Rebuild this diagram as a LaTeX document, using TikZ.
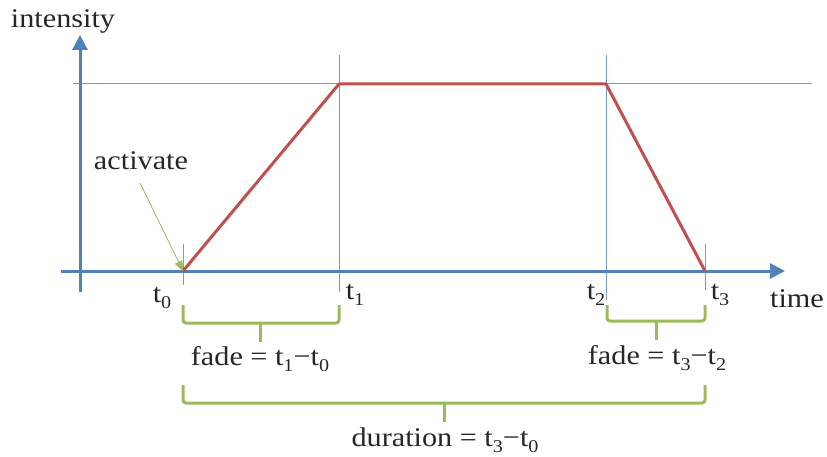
\documentclass[tikz,border=0pt]{standalone}
\usepackage{fontspec}
\setmainfont{Liberation Serif}[FakeStretch=1.12]
\usetikzlibrary{arrows.meta}
\definecolor{axisblue}{RGB}{79,129,189}
\definecolor{thinblue}{RGB}{120,155,200}
\definecolor{curvered}{RGB}{192,80,77}
\definecolor{bracegreen}{RGB}{155,187,89}
\newcommand\mysub[1]{\raisebox{-0.22em}{\fontsize{18}{18}\selectfont #1}}
\tikzset{
  lbl/.style={font=\fontsize{27}{30}\selectfont, inner sep=0pt, text=black!85},
  axisline/.style={draw=axisblue, line width=3pt},
  guide/.style={draw=thinblue, line width=1pt},
  curve/.style={draw=curvered, line width=3pt, line join=round},
  bracepath/.style={draw=bracegreen, line width=3pt, rounded corners=3pt},
}
\begin{document}
\begin{tikzpicture}[x=1pt,y=-1pt]
\useasboundingbox (0,0) rectangle (827,457);
% coordinates
\coordinate (ybot) at (80,292);
\coordinate (ytop) at (80,35);
\coordinate (xleft) at (61,271);
\coordinate (xright) at (785,271);
\coordinate (hl) at (73,84);
\coordinate (hr) at (812,84);
\coordinate (p0) at (183,271);
\coordinate (p1) at (339,84);
\coordinate (p2) at (606,84);
\coordinate (p3) at (705,271);
% guides
\draw[guide] (hl) -- (hr);
\draw[guide] (339,55) -- (339,292);
\draw[guide] (606,55) -- (606,300);
\draw[guide] (183,244) -- (183,285);
\draw[guide] (705,244) -- (705,290);
% axes
\draw[axisline, -{Triangle[length=15pt,width=15pt]}] (ybot) -- (ytop);
\draw[axisline, -{Triangle[length=15pt,width=15pt]}] (xleft) -- (xright);
% curve
\draw[curve] (p0) -- (p1) -- (p2) -- (p3);
% labels
\node[lbl] (intensity) at (63,21) {intensity};
\node[lbl] (time) at (797,299) {time};
\node[lbl] (t0) at (162,298) {t\mysub{0}};
\node[lbl] (t1) at (355,295) {t\mysub{1}};
\node[lbl] (t2) at (596,295) {t\mysub{2}};
\node[lbl] (t3) at (720,295) {t\mysub{3}};
\node[lbl] (activate) at (141,161) {activate};
\node[lbl] (fade1) at (260,359) {fade = t\mysub{1}−t\mysub{0}};
\node[lbl] (fade2) at (657,358) {fade = t\mysub{3}−t\mysub{2}};
\node[lbl] (dur) at (445,440) {duration = t\mysub{3}−t\mysub{0}};
% activate arrow
\coordinate (actstart) at (140,183);
\draw[draw=bracegreen, line width=0.8pt, -{Triangle[length=10pt,width=8pt]}] (actstart) -- (p0);
% braces
\draw[bracepath] (183,305) -- (183,323) -- (339,323) -- (339,305);
\draw[bracepath, rounded corners=0pt] (260,323) -- (260,342);
\draw[bracepath] (607,305) -- (607,321) -- (705,321) -- (705,305);
\draw[bracepath, rounded corners=0pt] (656,321) -- (656,340);
\draw[bracepath] (183,385) -- (183,403) -- (705,403) -- (705,385);
\draw[bracepath, rounded corners=0pt] (444,403) -- (444,422);
\end{tikzpicture}
\end{document}
